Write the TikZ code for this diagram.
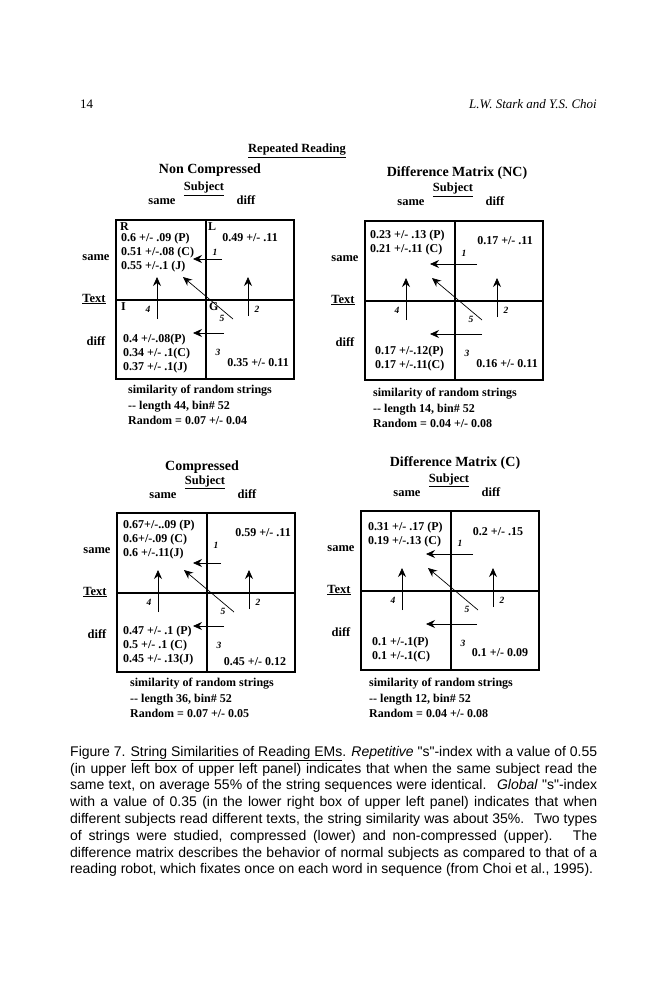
\documentclass[tikz,border=0pt]{standalone}
\usepackage{fontspec}
\setmainfont{Liberation Serif}
\setsansfont{Liberation Sans}
\usepackage{tikz}
\usetikzlibrary{arrows.meta,positioning}

\begin{document}
\begin{tikzpicture}[
    x=1pt, y=-1pt,
    every node/.style={inner sep=0pt},
    axislabel/.style={font=\fontsize{12.5}{14}\selectfont\bfseries, text height=8.5pt, text depth=2.5pt},
    paneltitle/.style={font=\fontsize{14}{16}\selectfont\bfseries, text height=9.5pt, text depth=3pt},
    cell/.style={font=\fontsize{12}{14}\selectfont\bfseries, align=left, anchor=west},
    value/.style={font=\fontsize{12}{14}\selectfont\bfseries, text height=8.5pt, text depth=2.5pt},
    num/.style={font=\fontsize{9.5}{10}\selectfont\bfseries\itshape},
    foot/.style={font=\fontsize{12}{15.5}\selectfont\bfseries, align=left, anchor=west},
    cellgrid/.style={line width=1.4pt},
    arrow/.style={-{Stealth[length=9pt,width=8pt,inset=3pt]}, line width=0.7pt}
]

\fill[white] (0,0) rectangle (666,1000);

% Page head
\node[font=\fontsize{13}{15}\selectfont, anchor=west] (pageno) at (80,104) {14};
\node[font=\fontsize{13}{15}\selectfont\itshape, anchor=east] (runhead) at (597,104) {L.W. Stark and Y.S. Choi};

\node[axislabel] (heading) at (297,150) {\underline{Repeated Reading}};

% The four transition matrices
\foreach \pan/\mx/\my/\ux/\uy/\lx/\tx in {tl/206/300/16/-41/18/-13, tr/455/301/22/-37/27/-25,
                                         bl/207/593/14/-30/17/-14, br/451/591/22/-37/26/-25}{
  \begin{scope}[shift={(\mx,\my)}]
    \draw[cellgrid] (-90,-80) rectangle (88,79);
    \draw[cellgrid] (0,-80) -- (0,79) (-90,0) -- (88,0);
    % axes
    \node[axislabel] (\pan-subj) at (-2,-112) {\underline{Subject}};
    \node[axislabel] (\pan-colsame) at (-44,-98) {same};
    \node[axislabel] (\pan-coldiff) at (40,-98) {diff};
    \node[axislabel] (\pan-rowsame) at (-110,-43) {same};
    \node[axislabel] (\pan-rowtext) at (-112,-1) {\underline{Text}};
    \node[axislabel] (\pan-rowdiff) at (-110,42) {diff};
    % transitions
    \node[num] (\pan-n1) at (9,-48) {1};
    \node[num] (\pan-n2) at (51,9) {2};
    \node[num] (\pan-n3) at (12,52) {3};
    \node[num] (\pan-n4) at (-58,9) {4};
    \node[num] (\pan-n5) at (16,18) {5};
    \coordinate (\pan-a1) at (\ux,\uy);  \coordinate (\pan-b1) at (\tx,\uy);
    \coordinate (\pan-a2) at (42,16);    \coordinate (\pan-b2) at (42,-23);
    \coordinate (\pan-a3) at (\lx,33);   \coordinate (\pan-b3) at (\tx,33);
    \coordinate (\pan-a4) at (-49,19);   \coordinate (\pan-b4) at (-49,-23);
    \coordinate (\pan-a5) at (27,19);    \coordinate (\pan-b5) at (-23,-23);
    \foreach \k in {1,...,5}
      \draw[arrow] (\pan-a\k) -- (\pan-b\k);
  \end{scope}
}

% Non Compressed
\node[paneltitle] (nc-title) at (210,170) {Non Compressed};
\node[cell] (nc-r) at (120,227) {R};
\node[cell] (nc-l) at (208,227) {L};
\node[cell] (nc-i) at (121,307) {I};
\node[cell] (nc-g) at (209,307) {G};
\node[cell] (nc-ss) at (121,253) {0.6 +/- .09 (P)\\0.51 +/-.08 (C)\\0.55 +/-.1 (J)};
\node[value] (nc-sd) at (250,238) {0.49 +/- .11};
\node[cell] (nc-ds) at (123,354) {0.4 +/-.08(P)\\0.34 +/- .1(C)\\0.37 +/- .1(J)};
\node[value] (nc-dd) at (258,363) {0.35 +/- 0.11};
\node[foot] (nc-foot) at (128,405) {similarity of random strings\\-{}- length 44, bin\# 52\\Random = 0.07 +/- 0.04};

% Difference Matrix (NC)
\node[paneltitle] (dnc-title) at (457,173) {Difference Matrix (NC)};
\node[cell] (dnc-ss) at (370,242.5) {0.23 +/- .13 (P)\\0.21 +/-.11 (C)};
\node[value] (dnc-sd) at (505,241) {0.17 +/- .11};
\node[cell] (dnc-ds) at (375,359) {0.17 +/-.12(P)\\0.17 +/-.11(C)};
\node[value] (dnc-dd) at (507,364) {0.16 +/- 0.11};
\node[foot] (dnc-foot) at (373,408) {similarity of random strings\\-{}- length 14, bin\# 52\\Random = 0.04 +/- 0.08};

% Compressed
\node[paneltitle] (c-title) at (202,467) {Compressed};
\node[cell] (c-ss) at (123,540) {0.67+/-..09 (P)\\0.6+/-.09 (C)\\0.6 +/-.11(J)};
\node[value] (c-sd) at (263,533) {0.59 +/- .11};
\node[cell] (c-ds) at (123,646) {0.47 +/- .1 (P)\\0.5 +/- .1 (C)\\0.45 +/- .13(J)};
\node[value] (c-dd) at (255,662) {0.45 +/- 0.12};
\node[foot] (c-foot) at (130,698) {similarity of random strings\\-{}- length 36, bin\# 52\\Random = 0.07 +/- 0.05};

% Difference Matrix (C)
\node[paneltitle] (dc-title) at (455,463) {Difference Matrix (C)};
\node[cell] (dc-ss) at (368,534.5) {0.31 +/- .17 (P)\\0.19 +/-.13 (C)};
\node[value] (dc-sd) at (498,532) {0.2 +/- .15};
\node[cell] (dc-ds) at (372,649.5) {0.1 +/-.1(P)\\0.1 +/-.1(C)};
\node[value] (dc-dd) at (500,653) {0.1 +/- 0.09};
\node[foot] (dc-foot) at (369,698) {similarity of random strings\\-{}- length 12, bin\# 52\\Random = 0.04 +/- 0.08};

% Caption
\node[anchor=north west, text width=527pt, align=justify, font=\sffamily\fontsize{14}{16.8}\selectfont] (caption) at (70,746)
  {Figure 7. \underline{String Similarities of Reading EMs}. \textit{Repetitive} \textquotedbl s\textquotedbl-index with a value of 0.55\linebreak
   (in upper left box of upper left panel) indicates that when the same subject read the\linebreak
   same text, on average 55\% of the string sequences were identical. \ \textit{Global} \textquotedbl s\textquotedbl-index\linebreak
   with a value of 0.35 (in the lower right box of upper left panel) indicates that when\linebreak
   different subjects read different texts, the string similarity was about 35\%. \ Two types\linebreak
   of strings were studied, compressed (lower) and non-compressed (upper). \ The\linebreak
   difference matrix describes the behavior of normal subjects as compared to that of a\linebreak
   reading robot, which fixates once on each word in sequence (from Choi et al., 1995).};

\end{tikzpicture}
\end{document}
